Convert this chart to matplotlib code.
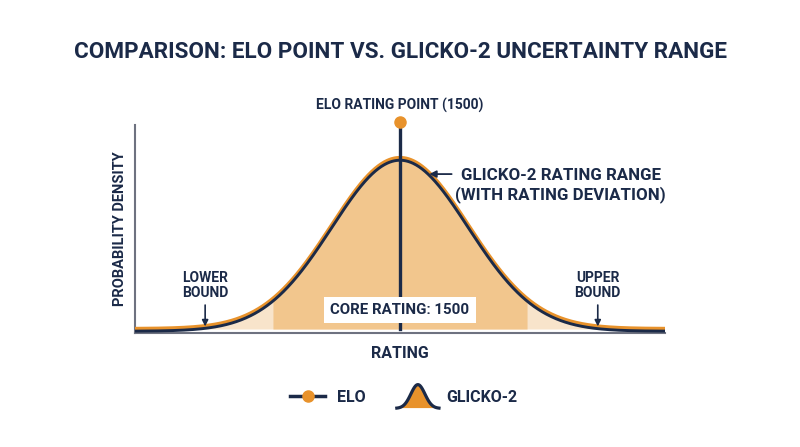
import numpy as np
import matplotlib
matplotlib.use("Agg")
import matplotlib.pyplot as plt
from matplotlib.transforms import ScaledTranslation
from matplotlib.legend_handler import HandlerBase
from matplotlib.lines import Line2D
from matplotlib.patches import Polygon

# ---- data ----
elo_rating = 1500
glicko_rating = 1500
glicko_rd = 350
rating_range = (140, 2860)
core_range = (845, 2155)
lower_bound = 500
upper_bound = 2515

title = "COMPARISON: ELO POINT VS. GLICKO-2 UNCERTAINTY RANGE"
x_label = "RATING"
y_label = "PROBABILITY DENSITY"
elo_label = "ELO RATING POINT (1500)"
glicko_label = "GLICKO-2 RATING RANGE\n(WITH RATING DEVIATION)"
core_label = "CORE RATING: 1500"
legend_labels = ["ELO", "GLICKO-2"]

NAVY = "#1B2A48"
ORANGE = "#E8922B"
CORE_FILL = "#F2C68D"
LIGHT_FILL = "#F8E4CB"
GRAY = "#6E7280"

plt.rcParams['font.family'] = ['Roboto', 'DejaVu Sans']
plt.rcParams['font.weight'] = 'bold'


def density(x):
    return np.exp(-0.5 * ((x - glicko_rating) / glicko_rd) ** 2) / (glicko_rd * np.sqrt(2 * np.pi))


fig = plt.figure(figsize=(8, 4.47), dpi=100)
ax = fig.add_axes([135 / 800, 1 - 333 / 447, 530 / 800, 208 / 447])

x = np.linspace(rating_range[0], rating_range[1], 900)
y = density(x)
peak = density(glicko_rating)

ax.fill_between(x, 0, y, color=LIGHT_FILL, lw=0, zorder=1)
xc = x[(x >= core_range[0]) & (x <= core_range[1])]
ax.fill_between(xc, 0, density(xc), color=CORE_FILL, lw=0, zorder=2)

ax.plot(x, y, color=ORANGE, lw=3.0, zorder=3, solid_capstyle='butt')
off = ax.transData + ScaledTranslation(0, -1.6 / 72, fig.dpi_scale_trans)
ax.plot(x, y, color=NAVY, lw=2.1, zorder=4, transform=off, solid_capstyle='butt')

ax.set_xlim(*rating_range)
ax.set_ylim(-0.0234 * peak, 1.193 * peak)

# Elo point
ax.plot([elo_rating, elo_rating], [0, 1.21 * peak], color=NAVY, lw=2.4, zorder=5, clip_on=False)
ax.plot([elo_rating], [1.21 * peak], 'o', color=ORANGE, ms=8, zorder=6, clip_on=False)

for s in ['top', 'right']:
    ax.spines[s].set_visible(False)
for s in ['left', 'bottom']:
    ax.spines[s].set_color(GRAY)
    ax.spines[s].set_linewidth(1.5)
ax.spines['bottom'].set_zorder(0)
ax.set_xticks([])
ax.set_yticks([])
ax.set_xlabel(x_label, color=NAVY, fontsize=11.5, fontweight='bold', labelpad=9)
ax.set_ylabel(y_label, color=NAVY, fontsize=10.5, fontweight='bold', labelpad=6)

fig.text(0.5, 1 - 52 / 447, title, ha='center', va='center', fontsize=16.2,
         fontweight='bold', color=NAVY)

ax.text(elo_rating, 1.31 * peak, elo_label, ha='center', va='center', fontsize=10,
        fontweight='bold', color=NAVY, clip_on=False)

# Glicko annotation
ax.annotate("", xy=(1650, 0.906 * peak), xytext=(1765, 0.906 * peak),
            arrowprops=dict(arrowstyle='-|>', color=NAVY, lw=1.3, mutation_scale=10,
                            shrinkA=0, shrinkB=0),
            annotation_clip=False)
ax.text(2325, 0.84 * peak, glicko_label, ha='center', va='center', multialignment='center',
        fontsize=12.2, fontweight='bold', color=NAVY, linespacing=1.2, clip_on=False)

# bounds
for bx, lab in [(lower_bound, "LOWER\nBOUND"), (upper_bound, "UPPER\nBOUND")]:
    ax.annotate("", xy=(bx, 0.015 * peak), xytext=(bx, 0.14 * peak),
                arrowprops=dict(arrowstyle='-|>', color=NAVY, lw=1.2, mutation_scale=9,
                                shrinkA=0, shrinkB=0))
    ax.text(bx, 0.255 * peak, lab, ha='center', va='center', fontsize=10,
            fontweight='bold', color=NAVY, linespacing=1.15)

ax.text(elo_rating, 0.11 * peak, core_label, ha='center', va='center', fontsize=10.8,
        fontweight='bold', color=NAVY, zorder=7,
        bbox=dict(boxstyle='square,pad=0.42', fc='white', ec='none'))


# legend
class BellHandler(HandlerBase):
    def create_artists(self, legend, orig_handle, xdescent, ydescent, width, height, fontsize, trans):
        xs = np.linspace(-3, 3, 60)
        ys = np.exp(-0.5 * xs ** 2)
        px = -0.1 * width + (xs + 3) / 6 * width * 1.2
        py = -ydescent + ys * height * 1.45 - 0.2 * height
        poly = Polygon(np.column_stack([np.r_[px, px[-1], px[0]], np.r_[py, py[0], py[0]]]),
                       closed=True, fc=ORANGE, ec='none', transform=trans)
        line = Line2D(px, py, color=NAVY, lw=2.3, transform=trans)
        return [poly, line]


elo_handle = Line2D([0], [0], color=NAVY, lw=2.5, marker='o', ms=8,
                    markerfacecolor=ORANGE, markeredgecolor=ORANGE)
bell_handle = object()
leg = fig.legend([elo_handle, bell_handle], legend_labels,
                 handler_map={object: BellHandler()},
                 loc='center', bbox_to_anchor=(0.505, 1 - 397 / 447), ncol=2, frameon=False,
                 fontsize=11.5, handlelength=2.2, handleheight=1.2, columnspacing=2.2,
                 handletextpad=0.7)
for t in leg.get_texts():
    t.set_color(NAVY)
    t.set_fontweight('bold')

fig.savefig("out.png", dpi=100, facecolor='white')
